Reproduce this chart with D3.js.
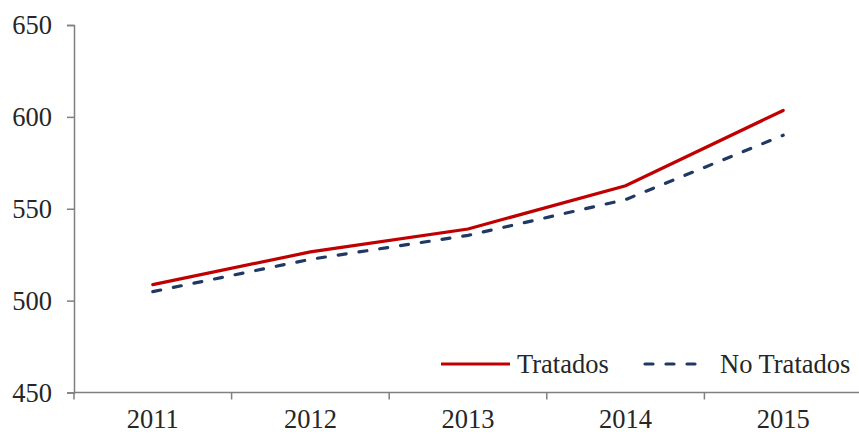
<!DOCTYPE html>
<html>
<head>
<meta charset="utf-8">
<script src="https://cdn.jsdelivr.net/npm/d3@7"></script>
<style>
  body { margin: 0; background: #fff; }
  text { font-family: "Liberation Serif", "Times New Roman", serif; fill: #262626; }
</style>
</head>
<body>
<div id="chart"></div>
<script>
// chart data
const years = ["2011", "2012", "2013", "2014", "2015"];
const tratados = [508.7, 526.5, 539, 562.5, 603.5];
const noTratados = [504.9, 522.5, 535.5, 555, 590];
const yTicks = [450, 500, 550, 600, 650];

const width = 859, height = 434;
const margin = {top: 25, right: -3, bottom: 41.5, left: 74};
const fontSize = "26.5px";

const svg = d3.select("#chart").append("svg")
    .attr("width", width)
    .attr("height", height);

let x = d3.scaleBand()
    .domain(years)
    .range([margin.left, width - margin.right]);

let y = d3.scaleLinear()
    .domain([450, 650])
    .range([height - margin.bottom, margin.top]);

// y axis
let yAxis = svg.append("g")
    .attr("transform", "translate(" + margin.left + ",0)")
    .call(d3.axisLeft(y).tickValues(yTicks).tickSize(7).tickPadding(15));
yAxis.select(".domain").attr("stroke", "#7f7f7f").attr("stroke-width", 1.5);
yAxis.selectAll(".tick line").attr("stroke", "#7f7f7f").attr("stroke-width", 1.5);
yAxis.selectAll(".tick text")
    .style("font-size", fontSize)
    .attr("fill", "#262626")
    .attr("dy", "0.33em");

// x axis, ticks on the band edges
let xAxis = svg.append("g")
    .attr("transform", "translate(0," + (height - margin.bottom) + ")");
xAxis.append("line")
    .attr("x1", margin.left).attr("x2", width)
    .attr("stroke", "#7f7f7f").attr("stroke-width", 1.5);
xAxis.selectAll(".edge")
    .data(years)
    .enter().append("line")
    .attr("x1", d => x(d) + x.bandwidth())
    .attr("x2", d => x(d) + x.bandwidth())
    .attr("y1", 0).attr("y2", 7)
    .attr("stroke", "#7f7f7f").attr("stroke-width", 1.5);
xAxis.append("line")
    .attr("x1", margin.left).attr("x2", margin.left)
    .attr("y1", 0).attr("y2", 7)
    .attr("stroke", "#7f7f7f").attr("stroke-width", 1.5);
xAxis.selectAll(".lbl")
    .data(years)
    .enter().append("text")
    .attr("x", d => x(d) + x.bandwidth() / 2)
    .attr("y", 35.5)
    .attr("text-anchor", "middle")
    .style("font-size", fontSize)
    .text(d => d);

// lines
let line = d3.line()
    .x((d, i) => x(years[i]) + x.bandwidth() / 2)
    .y(d => y(d));

svg.append("path")
    .datum(noTratados)
    .attr("fill", "none")
    .attr("stroke", "#1f3864")
    .attr("stroke-width", 3.2)
    .attr("stroke-linecap", "round")
    .attr("stroke-dasharray", "8,13")
    .attr("d", line);

svg.append("path")
    .datum(tratados)
    .attr("fill", "none")
    .attr("stroke", "#c00000")
    .attr("stroke-width", 3.2)
    .attr("stroke-linecap", "round")
    .attr("d", line);

// legend
let legend = svg.append("g");
legend.append("line")
    .attr("x1", 441).attr("x2", 510)
    .attr("y1", 364).attr("y2", 364)
    .attr("stroke", "#c00000").attr("stroke-width", 3.2);
legend.append("text")
    .attr("x", 517).attr("y", 372.5)
    .style("font-size", fontSize)
    .text("Tratados");
legend.append("line")
    .attr("x1", 645).attr("x2", 702)
    .attr("y1", 364).attr("y2", 364)
    .attr("stroke", "#1f3864").attr("stroke-width", 3.2)
    .attr("stroke-linecap", "round")
    .attr("stroke-dasharray", "8,13");
legend.append("text")
    .attr("x", 720).attr("y", 372.5)
    .style("font-size", fontSize)
    .text("No Tratados");
</script>
</body>
</html>
